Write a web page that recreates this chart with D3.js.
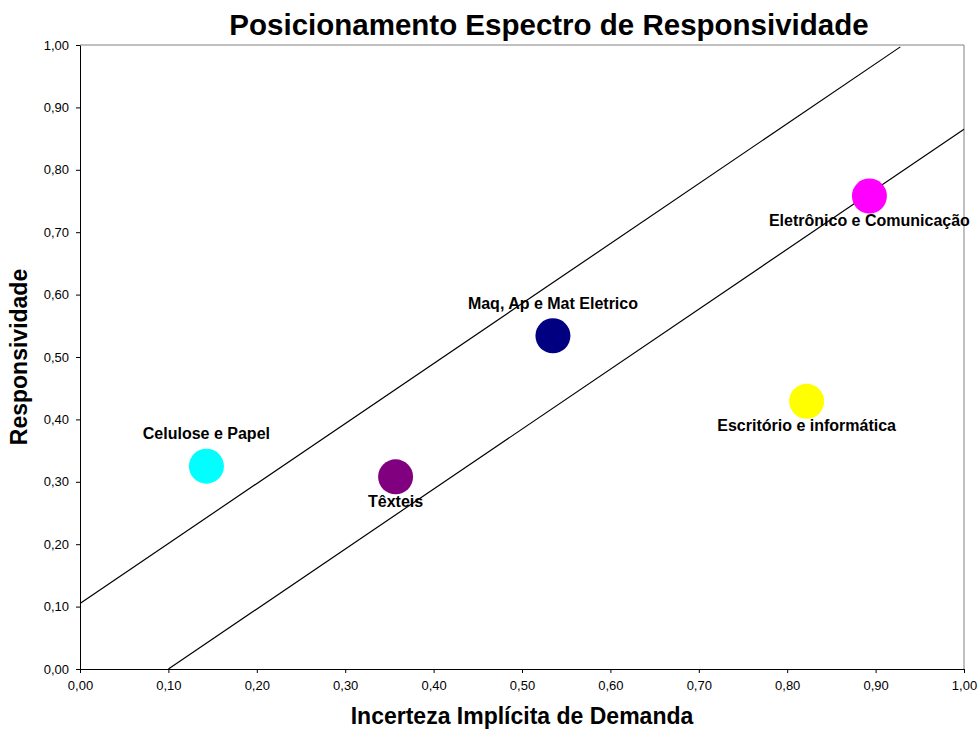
<!DOCTYPE html>
<head>
<meta charset="utf-8">
<style>
body { margin: 0; background: #fff; }
svg { font-family: "Liberation Sans", Arial, sans-serif; }
.axis text { font-size: 13px; fill: #000; }
.axis path, .axis line { stroke: #000; }
.label { font-size: 16px; font-weight: bold; text-anchor: middle; }
.trend { fill: none; stroke: #000; stroke-width: 1.2px; }
</style>
</head>
<body>
<svg width="979" height="729"></svg>
<script src="https://cdn.jsdelivr.net/npm/d3@7"></script>
<script>

// sectors
var names = ["Celulose e Papel", "Têxteis", "Maq, Ap e Mat Eletrico", "Eletrônico e Comunicação", "Escritório e informática"];
var incerteza = [0.143, 0.357, 0.535, 0.893, 0.822];
var respons = [0.325, 0.308, 0.534, 0.758, 0.429];
var colors = ["#00ffff", "#800080", "#000080", "#ff00ff", "#ffff00"];
var labelSide = ["above", "below", "above", "below", "below"];

// the two band lines
var upperLine = [[0, 0.105], [0.928, 0.997]];
var lowerLine = [[0.10, 0], [1.0, 0.865]];

var ticks = [0, 0.1, 0.2, 0.3, 0.4, 0.5, 0.6, 0.7, 0.8, 0.9, 1.0];

var svg = d3.select("svg"),
    mLeft = 80, mRight = 964, mTop = 45, mBottom = 669;

var x = d3.scaleLinear().domain([0, 1]).range([mLeft, mRight]);
var y = d3.scaleLinear().domain([0, 1]).range([mBottom, mTop]);
var fmt = function(d) { return d3.format(".2f")(d).replace(".", ","); };

// plot frame top/right
svg.append("path")
    .attr("d", "M" + mLeft + "," + mTop + "H" + mRight + "V" + mBottom)
    .attr("fill", "none").attr("stroke", "#808080");

svg.append("g").attr("class", "axis")
    .attr("transform", "translate(0," + mBottom + ")")
    .call(d3.axisBottom(x).tickValues(ticks).tickFormat(fmt).tickSize(4).tickSizeOuter(0).tickPadding(8));

svg.append("g").attr("class", "axis")
    .attr("transform", "translate(" + mLeft + ",0)")
    .call(d3.axisLeft(y).tickValues(ticks).tickFormat(fmt).tickSize(4).tickSizeOuter(0).tickPadding(7));

var line = d3.line().x(function(d) { return x(d[0]); }).y(function(d) { return y(d[1]); });
svg.selectAll(".trend").data([upperLine, lowerLine]).enter().append("path")
    .attr("class", "trend").attr("d", line);

var pts = names.map(function(n, i) { return {name: n, x: incerteza[i], y: respons[i], c: colors[i], side: labelSide[i]}; });

svg.selectAll(".dot").data(pts).enter().append("circle")
    .attr("cx", function(d) { return x(d.x); })
    .attr("cy", function(d) { return y(d.y); })
    .attr("r", 17.5)
    .attr("fill", function(d) { return d.c; });

svg.selectAll(".label").data(pts).enter().append("text")
    .attr("class", "label")
    .attr("x", function(d) { return x(d.x); })
    .attr("y", function(d) { return y(d.y) + (d.side == "above" ? -27 : 30); })
    .text(function(d) { return d.name; });

svg.append("text").attr("x", 549).attr("y", 35)
    .attr("text-anchor", "middle").style("font-size", "29.5px").style("font-weight", "bold")
    .text("Posicionamento Espectro de Responsividade");

svg.append("text").attr("x", 522).attr("y", 724)
    .attr("text-anchor", "middle").style("font-size", "23px").style("font-weight", "bold")
    .text("Incerteza Implícita de Demanda");

svg.append("text").attr("transform", "translate(27,357) rotate(-90)")
    .attr("text-anchor", "middle").style("font-size", "23px").style("font-weight", "bold")
    .text("Responsividade");

</script>
</body>
